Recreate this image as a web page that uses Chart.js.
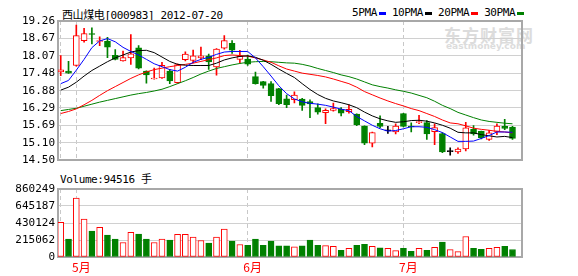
<!DOCTYPE html>
<html>
<head>
<meta charset="utf-8">
<script src="https://cdn.jsdelivr.net/npm/chart.js@4.4.1/dist/chart.umd.min.js"></script>
<style>
  body { margin: 0; background: #fff; width: 578px; height: 276px; position: relative; overflow: hidden; }
  .t { position: absolute; white-space: nowrap; color: #000; font-family: "DejaVu Sans Mono", "Noto Sans CJK SC", monospace; font-size: 11px; letter-spacing: -0.4px; }
  .mk { display: inline-block; width: 7px; height: 3px; vertical-align: middle; margin: 0 6px 0 2px; }
  .wm { position: absolute; color: #dcdcdc; font-family: "Noto Sans CJK SC", sans-serif; font-weight: bold; white-space: nowrap; }
  #priceChart { position: absolute; left: 0; top: 0; }
  #volChart { position: absolute; left: 0; top: 170px; }
</style>
</head>
<body>
<div class="wm" style="left:444px;top:22px;font-size:17px;letter-spacing:1px;">东方财富网</div>
<div class="wm" style="left:446px;top:41px;font-size:9px;font-family:'DejaVu Sans',sans-serif;">eastmoney.com</div>
<div class="t" style="left:62px;top:6px;">西山煤电[000983] 2012-07-20</div>
<div class="t" style="left:352px;top:6px;">5PMA<span class="mk" style="background:#0000ff"></span>10PMA<span class="mk" style="background:#000"></span>20PMA<span class="mk" style="background:#ff0000"></span>30PMA<span class="mk" style="background:#008000"></span></div>
<div class="t" id="volText" style="left:60px;top:170px;"></div>
<canvas id="priceChart" width="578" height="170"></canvas>
<canvas id="volChart" width="578" height="106"></canvas>
<script>
var dates = ["04-26","04-27",
  "05-02","05-03","05-04","05-07","05-08","05-09","05-10","05-11","05-14","05-15","05-16","05-17","05-18",
  "05-21","05-22","05-23","05-24","05-25","05-28","05-29","05-30","05-31",
  "06-01","06-04","06-05","06-06","06-07","06-08","06-11","06-12","06-13","06-14","06-15",
  "06-18","06-19","06-20","06-21","06-25","06-26","06-27","06-28","06-29",
  "07-02","07-03","07-04","07-05","07-06","07-09","07-10","07-11","07-12","07-13",
  "07-16","07-17","07-18","07-19","07-20"];

var open  = [17.52,17.55,17.74,18.59,18.82,18.56,18.57,18.09,17.90,18.00,18.34,17.55,17.28,17.32,17.55,17.15,17.94,17.91,18.00,18.07,
             17.69,18.33,18.50,17.95,17.96,17.36,17.19,17.12,16.95,16.60,16.57,16.59,16.51,16.30,16.13,16.21,16.24,16.16,16.08,15.67,
             15.09,15.77,15.51,15.47,16.10,15.66,15.79,15.79,15.48,15.42,14.80,14.79,14.89,15.56,15.49,15.22,15.49,15.66,15.64];
var high  = [18.08,17.88,19.12,19.01,19.03,18.72,18.70,18.28,18.23,18.80,18.42,17.56,17.65,17.85,17.61,17.80,18.21,18.27,18.37,18.13,
             18.32,18.76,18.59,18.26,18.10,17.52,17.20,17.19,16.96,16.73,16.84,16.62,16.57,16.43,16.26,16.46,16.30,16.40,16.09,15.68,
             15.47,16.02,15.66,15.75,16.11,15.78,16.04,15.86,15.75,15.45,14.93,14.93,15.80,15.69,15.50,15.53,15.75,15.90,15.66];
var low   = [17.39,17.47,17.72,18.54,18.48,18.42,18.01,17.93,17.89,17.78,17.62,17.14,17.27,17.30,17.12,17.13,17.90,17.83,17.94,17.61,
             17.41,18.30,18.15,17.82,17.74,17.10,16.97,16.51,16.40,16.30,16.46,16.21,15.96,16.08,15.75,16.18,16.02,16.11,15.69,15.04,
             14.96,15.62,15.42,15.40,15.64,15.47,15.75,15.22,15.04,14.76,14.68,14.74,14.82,15.36,15.23,15.18,15.38,15.55,15.22];
var close = [17.59,17.48,18.76,18.83,18.80,18.58,18.37,17.95,18.01,18.14,17.65,17.42,17.31,17.75,17.21,17.77,18.13,18.07,18.07,17.86,
             18.30,18.59,18.26,18.05,17.79,17.12,17.06,16.71,16.44,16.40,16.73,16.38,16.43,16.15,16.21,16.27,16.11,16.24,15.72,15.09,
             15.45,15.66,15.51,15.67,15.66,15.64,15.81,15.40,15.62,14.79,14.80,14.89,15.61,15.40,15.28,15.44,15.67,15.59,15.25];

var vol = [438700,225700,745300,481200,327900,374800,276800,225700,183100,310900,289600,225700,183100,225700,212900,285300,285300,251300,208700,174600,
           251300,353500,200200,157600,149100,225700,149100,200200,140500,140500,127800,140500,212900,149100,144800,136300,85200,110700,149100,161800,
           136300,115000,110700,80900,110700,72400,110700,85200,123500,187400,93700,68100,259800,110700,98000,110700,123500,136300,94516];

var ma5  = [17.12,17.23,17.58,17.95,18.35,18.58,18.66,18.55,18.36,18.22,18.10,17.95,17.80,17.70,17.60,17.55,17.68,17.85,17.95,18.02,
            18.12,18.20,18.22,18.22,18.22,18.00,17.70,17.38,17.05,16.78,16.60,16.50,16.45,16.42,16.38,16.32,16.25,16.20,16.00,15.85,
            15.70,15.58,15.50,15.52,15.58,15.65,15.65,15.63,15.55,15.45,15.30,15.15,15.15,15.16,15.25,15.35,15.47,15.47,15.46];
var ma10 = [16.90,17.00,17.17,17.38,17.57,17.72,17.87,18.00,18.10,18.20,18.25,18.26,18.18,18.03,17.88,17.78,17.75,17.74,17.74,17.74,
            17.82,17.93,18.00,18.05,18.07,18.02,17.92,17.78,17.62,17.47,17.33,17.12,16.92,16.75,16.62,16.53,16.47,16.40,16.30,16.15,
            16.02,15.92,15.85,15.80,15.82,15.86,15.87,15.84,15.78,15.70,15.60,15.46,15.44,15.44,15.38,15.34,15.30,15.32,15.28];
var ma20 = [16.10,16.17,16.26,16.40,16.55,16.72,16.88,17.02,17.16,17.30,17.42,17.52,17.60,17.65,17.70,17.74,17.78,17.82,17.88,17.94,
            18.00,18.08,18.10,18.08,18.06,18.00,17.93,17.85,17.73,17.62,17.55,17.48,17.44,17.40,17.35,17.28,17.20,17.12,17.00,16.85,
            16.74,16.63,16.53,16.44,16.36,16.27,16.20,16.10,16.00,15.88,15.78,15.75,15.68,15.60,15.56,15.53,15.49,15.47,15.44];
var ma30 = [16.20,16.24,16.28,16.35,16.42,16.49,16.55,16.61,16.67,16.73,16.78,16.82,16.87,16.93,17.02,17.12,17.22,17.33,17.45,17.55,
            17.64,17.70,17.76,17.81,17.85,17.87,17.88,17.87,17.85,17.83,17.82,17.78,17.72,17.64,17.57,17.50,17.42,17.36,17.28,17.18,
            17.08,17.02,16.97,16.91,16.86,16.80,16.72,16.64,16.52,16.38,16.27,16.14,16.05,15.96,15.88,15.83,15.80,15.77,15.75];

var priceTicks = [14.50, 15.10, 15.69, 16.29, 16.88, 17.48, 18.07, 18.67, 19.26];
var volTicks = [0, 215062, 430124, 645187, 860249];
var monthIdx = [0, 2, 24, 44];
var monthLabels = ["", "5月", "6月", "7月"];

var RED = "#ff0000";
var GREEN = "#008000";
var tickFont = { family: "DejaVu Sans Mono", size: 11 };

document.getElementById("volText").textContent = "Volume:" + vol[vol.length - 1] + " 手";

function candleColor(i) {
  if (close[i] > open[i]) return RED;
  if (close[i] < open[i]) return GREEN;
  return "#000000";
}

function candleFill(i) {
  if (close[i] > open[i]) return "#ffffff";
  return candleColor(i);
}

function volColor(i) {
  return close[i] >= open[i] ? RED : GREEN;
}

function maLine(values, color) {
  return {
    type: "line",
    data: values.map(function (v, i) { return { x: i, y: v }; }),
    borderColor: color,
    borderWidth: 1,
    pointRadius: 0,
    tension: 0,
    order: 0
  };
}

// frame round the plot area
const frame = {
  id: "frame",
  beforeDatasetsDraw(chart) {
    const a = chart.chartArea;
    const ctx = chart.ctx;
    ctx.save();
    ctx.strokeStyle = "#a8a8a8";
    ctx.lineWidth = 2;
    ctx.strokeRect(Math.round(a.left), Math.round(a.top), Math.round(a.right - a.left), Math.round(a.bottom - a.top));
    ctx.restore();
  }
};

var xCommon = {
  type: "linear",
  offset: false,
  min: -0.35,
  max: 59.22,
  afterBuildTicks: function (s) { s.ticks = monthIdx.map(function (v) { return { value: v }; }); },
  grid: { color: "#c8c8c8", drawTicks: false, offset: false },
  border: { display: false, dash: [4, 3] }
};

let priceChart = new Chart(document.getElementById("priceChart"), {
  data: {
    datasets: [
      maLine(ma5, "#0000ff"),
      maLine(ma10, "#000000"),
      maLine(ma20, RED),
      maLine(ma30, GREEN),
      {
        type: "bar",
        data: dates.map(function (d, i) { return { x: i, y: [open[i], close[i]] }; }),
        backgroundColor: dates.map(function (d, i) { return candleFill(i); }),
        borderColor: dates.map(function (d, i) { return candleColor(i); }),
        borderWidth: 1,
        borderSkipped: false,
        grouped: false,
        barThickness: 6,
        maxBarThickness: 6,
        minBarLength: 1,
        order: 1
      },
      {
        type: "bar",
        data: dates.map(function (d, i) { return { x: i, y: [low[i], high[i]] }; }),
        backgroundColor: dates.map(function (d, i) { return candleColor(i); }),
        borderWidth: 0,
        grouped: false,
        barThickness: 1,
        maxBarThickness: 1,
        order: 2
      }
    ]
  },
  options: {
    responsive: false,
    animation: false,
    layout: { padding: { top: 21, right: 56, bottom: 4, left: 0 } },
    plugins: { legend: { display: false }, tooltip: { enabled: false } },
    scales: {
      x: Object.assign({}, xCommon, {
        ticks: { display: false },
        afterFit: function (s) { s.height = 0; }
      }),
      y: {
        min: 14.5,
        max: 19.26,
        afterBuildTicks: function (s) { s.ticks = priceTicks.map(function (v) { return { value: v }; }); },
        afterFit: function (s) { s.width = 58; },
        ticks: { padding: 3, color: "#000", font: tickFont, callback: function (v) { return v.toFixed(2); } },
        grid: { color: "#d0d0d0", drawTicks: false },
        border: { display: false }
      }
    }
  },
  plugins: [frame]
});

let volChart = new Chart(document.getElementById("volChart"), {
  type: "bar",
  data: {
    datasets: [{
      data: dates.map(function (d, i) { return { x: i, y: vol[i] }; }),
      backgroundColor: dates.map(function (d, i) { return close[i] >= open[i] ? "#ffffff" : GREEN; }),
      borderColor: dates.map(function (d, i) { return volColor(i); }),
      borderWidth: 1,
      borderSkipped: false,
      barThickness: 6
    }]
  },
  options: {
    responsive: false,
    animation: false,
    layout: { padding: { top: 19, right: 56, bottom: 0, left: 0 } },
    plugins: { legend: { display: false }, tooltip: { enabled: false } },
    scales: {
      x: Object.assign({}, xCommon, {
        afterFit: function (s) { s.height = 19; },
        ticks: {
          color: RED,
          font: { family: "Noto Sans CJK SC", size: 12 },
          padding: 3,
          labelOffset: 5,
          autoSkip: false,
          maxRotation: 0,
          callback: function (v) { return monthLabels[monthIdx.indexOf(v)]; }
        }
      }),
      y: {
        min: 0,
        max: 860249,
        afterBuildTicks: function (s) { s.ticks = volTicks.map(function (v) { return { value: v }; }); },
        afterFit: function (s) { s.width = 58; },
        ticks: { padding: 3, color: "#000", font: tickFont, callback: function (v) { return String(v); } },
        grid: { color: "#d0d0d0", drawTicks: false },
        border: { display: false }
      }
    }
  },
  plugins: [frame]
});
</script>
</body>
</html>
